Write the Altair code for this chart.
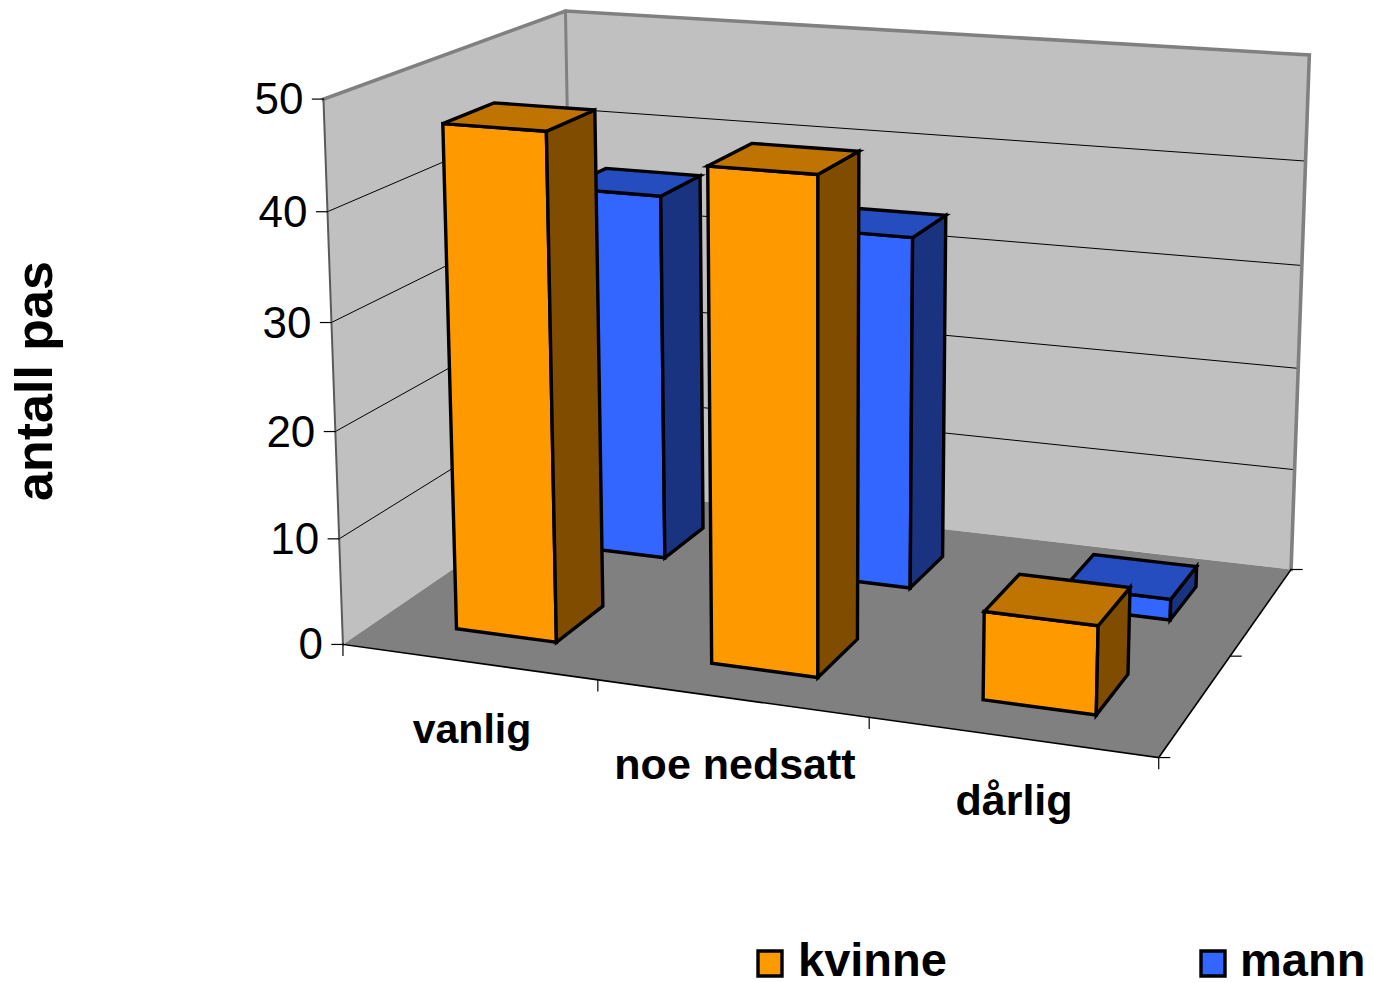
import numpy as np
import pandas as pd
import altair as alt

CATEGORIES = ["vanlig", "noe nedsatt", "dårlig"]
KVINNE = [47, 45, 8]
MANN = [36, 34, 2]
Y_TICKS = [0, 10, 20, 30, 40, 50]
Y_TITLE = "antall pas"
SERIES = ["kvinne", "mann"]

ORANGE = ("#FF9900", "#BF7300", "#804D00")
BLUE = ("#3366FF", "#264DBF", "#1A3380")
WALL, FLOOR = "#C0C0C0", "#808080"
YMAX = 50

# Camera: where the corners of the chart's box land on the page
CORNERS = {(0,0,0):(345,646),(1,0,0):(1158,757),(0,1,0):(572,485),(1,1,0):(1292,570),
           (0,0,1):(322,98),(0,1,1):(567,12),(1,1,1):(1309,55)}
A, b = [], []
for (X, Y, Z), (px, py) in CORNERS.items():
    A.append([X,Y,Z,1,0,0,0,0,-px*X,-px*Y,-px*Z]); b.append(px)
    A.append([0,0,0,0,X,Y,Z,1,-py*X,-py*Y,-py*Z]); b.append(py)
P = np.append(np.linalg.lstsq(np.array(A, float), np.array(b, float), rcond=None)[0], 1).reshape(3, 4)

def pr(u, v, z):
    r = P @ np.array([u, v, z, 1.0])
    return float(r[0] / r[2]), float(r[1] / r[2])

def envelope(poly):
    """Convex polygon -> rows of x, y (upper), y2 (lower) for an area mark."""
    xs = sorted({p[0] for p in poly})
    rows = []
    n = len(poly)
    for x in xs:
        ys = []
        for i in range(n):
            (x0, y0), (x1, y1) = poly[i], poly[(i + 1) % n]
            if min(x0, x1) <= x <= max(x0, x1):
                if x0 == x1:
                    ys += [y0, y1]
                else:
                    ys.append(y0 + (y1 - y0) * (x - x0) / (x1 - x0))
        rows.append((x, min(ys), max(ys)))
    return rows

def faces(rows, name, poly, fill, stroke="none", sw=0):
    for x, y, y2 in envelope(poly):
        rows.append(dict(face=name, x=x, y=y, y2=y2, fill=fill, stroke=stroke, sw=sw))

# walls and floor
room = []
faces(room, "a_left", [pr(0,0,0), pr(0,0,1), pr(0,1,1), pr(0,1,0)], WALL)
faces(room, "b_back", [pr(0,1,0), pr(0,1,1), pr(1,1,1), pr(1,1,0)], WALL)
faces(room, "c_floor", [pr(0,0,0), pr(1,0,0), pr(1,1,0), pr(0,1,0)], FLOOR)

# bars: back row first, then front row
bars = []
for s, (vals, cols, v0, v1) in enumerate([(MANN, BLUE, 0.645, 0.84), (KVINNE, ORANGE, 0.145, 0.35)]):
    for i, val in enumerate(vals):
        u0 = 0.3335 * i + 0.103
        u1 = u0 + 0.133
        z = val / YMAX
        key = f"{s}{i}"
        faces(bars, key + "a", [pr(u0,v0,0), pr(u1,v0,0), pr(u1,v0,z), pr(u0,v0,z)], cols[0], "#000000", 3.4)
        faces(bars, key + "b", [pr(u1,v0,0), pr(u1,v1,0), pr(u1,v1,z), pr(u1,v0,z)], cols[2], "#000000", 3.4)
        faces(bars, key + "c", [pr(u0,v0,z), pr(u1,v0,z), pr(u1,v1,z), pr(u0,v1,z)], cols[1], "#000000", 3.4)

# legend swatches
for name, cols, x0 in [(SERIES[0], ORANGE, 758), (SERIES[1], BLUE, 1201)]:
    faces(bars, "z" + name, [(x0, 951), (x0 + 24, 951), (x0 + 24, 976), (x0, 976)], cols[0], "#000000", 3.4)

# lines: gridlines, borders, ticks
lines = []
def line(name, pts, color="#000000", width=1.0):
    for k, (x, y) in enumerate(pts):
        lines.append(dict(name=name, i=k, x=x, y=y, color=color, width=width))

for t in Y_TICKS[1:-1]:
    z = t / YMAX
    line(f"grid{t}", [pr(0,0,z), pr(0,1,z), pr(1,1,z)])
line("wall_top", [pr(0,0,1), pr(0,1,1), pr(1,1,1), pr(1,1,0)], "#808080", 3.6)
line("wall_back", [pr(0,1,1), pr(0,1,0)], "#808080", 3.0)
line("wall_front", [pr(0,0,1), pr(0,0,0)], "#5A5A5A", 2.0)
line("floor_front", [pr(0,0,0), pr(1,0,0), pr(1,1,0)], "#000000", 1.6)
for t in Y_TICKS:
    x, y = pr(0, 0, t / YMAX)
    line(f"ytick{t}", [(x - 11, y), (x, y)], "#000000", 1.2)
for k in range(4):
    x, y = pr(k / 3, 0, 0)
    line(f"xtick{k}", [(x, y), (x, y + 11)], "#000000", 1.2)
for k in range(3):
    x, y = pr(1, k / 2, 0)
    line(f"dtick{k}", [(x, y), (x + 11, y)], "#000000", 1.2)

# texts
texts = []
for t in Y_TICKS:
    x, y = pr(0, 0, t / YMAX)
    texts.append(dict(t=str(t), x=x - 20, y=y + 15, size=44, weight="normal", align="right", angle=0))
for name, x, y, size in zip(CATEGORIES, [472, 735, 1014], [743, 779, 815], [41, 43, 43]):
    texts.append(dict(t=name, x=x, y=y, size=size, weight="bold", align="center", angle=0))
texts.append(dict(t=SERIES[0], x=798, y=976, size=47, weight="bold", align="left", angle=0))
texts.append(dict(t=SERIES[1], x=1240, y=976, size=47, weight="bold", align="left", angle=0))
texts.append(dict(t=Y_TITLE, x=52, y=381, size=52, weight="bold", align="center", angle=270))

W, H = 1357, 975
sx = alt.Scale(domain=[8, 8 + W], nice=False, zero=False)
sy = alt.Scale(domain=[8 + H, 8], nice=False, zero=False)
X = alt.X("x:Q", scale=sx, axis=None)
Y = alt.Y("y:Q", scale=sy, axis=None)

def area_layer(rows):
    return alt.Chart(pd.DataFrame(rows)).mark_area(interpolate="linear").encode(
        x=X, y=Y, y2="y2:Q",
        fill=alt.Fill("fill:N", scale=None),
        stroke=alt.Stroke("stroke:N", scale=None),
        strokeWidth=alt.StrokeWidth("sw:Q", scale=None),
        detail="face:N",
    )

line_layer = alt.Chart(pd.DataFrame(lines)).mark_line(strokeCap="square").encode(
    x=X, y=Y, order="i:Q", detail="name:N",
    color=alt.Color("color:N", scale=None),
    strokeWidth=alt.StrokeWidth("width:Q", scale=None),
)

tdf = pd.DataFrame(texts)
text_layers = []
for (weight, align, angle, size), g in tdf.groupby(["weight", "align", "angle", "size"], sort=False):
    text_layers.append(alt.Chart(g).mark_text(
        font="Liberation Sans", fontWeight=weight, fontSize=int(size), align=align,
        angle=int(angle), baseline="alphabetic", color="#000000",
    ).encode(x=X, y=Y, text="t:N"))

chart = alt.layer(area_layer(room), line_layer, area_layer(bars), *text_layers).properties(
    width=W, height=H, padding=0, autosize=alt.AutoSizeParams(type="none"),
).configure_view(stroke=None)

chart.save("out.html", embed_options={"renderer": "svg", "actions": False})
